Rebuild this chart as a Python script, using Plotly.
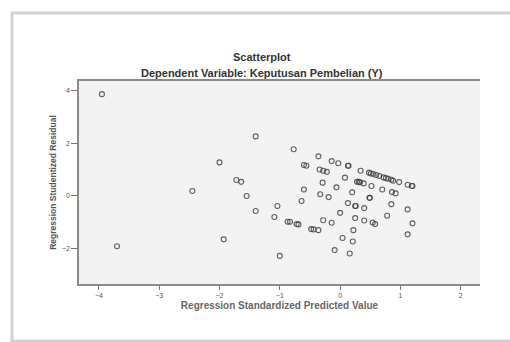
import plotly.graph_objects as go

# Regression Standardized Predicted Value
pred = [-3.95, -3.70, -2.45, -2.00, -1.93, -1.72, -1.64, -1.55, -1.40, -1.40,
        -1.09, -1.04, -1.00, -0.87, -0.83, -0.72, -0.69, -0.77, -0.64, -0.60,
        -0.60, -0.56, -0.48, -0.44, -0.36, -0.36, -0.34, -0.33, -0.29, -0.28,
        -0.28, -0.22, -0.19, -0.14, -0.14, -0.09, -0.06, -0.03, 0.00, 0.04,
        0.08, 0.13, 0.14, 0.13, 0.16, 0.20, 0.22, 0.21, 0.25, 0.25,
        0.26, 0.28, 0.31, 0.33, 0.34, 0.39, 0.40, 0.40, 0.48, 0.49,
        0.49, 0.51, 0.52, 0.54, 0.55, 0.58, 0.60, 0.65, 0.70, 0.72,
        0.76, 0.78, 0.80, 0.85, 0.85, 0.86, 0.88, 0.92, 0.98, 1.12,
        1.12, 1.12, 1.19, 1.20, 1.20]
# Regression Studentized Residual
resid = [3.87, -1.92, 0.18, 1.27, -1.66, 0.60, 0.53, -0.01, 2.26, -0.58,
         -0.81, -0.39, -2.29, -0.99, -0.99, -1.08, -1.09, 1.77, -0.20, 0.24,
         1.17, 1.14, -1.27, -1.28, -1.31, 1.50, 1.00, 0.06, 0.50, 0.95,
         -0.93, 0.91, -0.05, 1.32, -1.03, -2.07, 0.32, 1.24, -0.65, -1.61,
         0.69, 1.14, 1.14, -0.28, -2.20, 0.13, -1.31, -1.74, -0.85, -0.39,
         -0.39, 0.53, 0.53, 0.51, 0.95, 0.47, -0.47, -0.94, 0.88, -0.08,
         -0.08, 0.85, 0.37, -1.02, 0.83, -1.08, 0.79, 0.75, 0.24, 0.70,
         0.67, -0.76, 0.65, 0.61, -0.32, 0.14, 0.57, 0.09, 0.52, -0.52,
         0.42, -1.47, 0.37, 0.37, -1.05]

x_ticks = [-4, -3, -2, -1, 0, 1, 2]
y_ticks = [-2, 0, 2, 4]

W, H = 510, 342
L, R, T, B = 79, 480, 81, 284

fig = go.Figure(go.Scatter(
    x=pred, y=resid, mode="markers",
    marker=dict(symbol="circle-open", size=5, color="rgba(60,60,60,0.8)",
                line=dict(width=1.1, color="rgba(60,60,60,0.8)")),
    hoverinfo="skip", showlegend=False))

def px(xp):
    return (xp - L) / (R - L)

def py(yp):
    return (B - yp) / (B - T)

fig.update_layout(
    width=W, height=H,
    margin=dict(l=L, r=W - R, t=T, b=H - B, pad=0, autoexpand=False),
    paper_bgcolor="white", plot_bgcolor="#f3f3f3",
    font=dict(family="Liberation Sans, Arial, sans-serif", color="#333"),
    xaxis=dict(range=[-4.33, 2.32], tickvals=x_ticks, showgrid=False, zeroline=False,
               automargin=False,
               showline=True, linecolor="#8a8a8a", linewidth=1.5, mirror=True,
               ticks="outside", ticklen=4, tickcolor="#777", tickwidth=1,
               tickfont=dict(size=7, color="#555"),
               title=dict(text="<b>Regression Standardized Predicted Value</b>",
                          font=dict(size=10, color="#666"), standoff=4)),
    yaxis=dict(range=[-3.36, 4.37], tickvals=y_ticks, showgrid=False, zeroline=False,
               automargin=False,
               showline=True, linecolor="#8a8a8a", linewidth=1.5,
               ticks="outside", ticklen=6, tickcolor="#777", tickwidth=1,
               tickfont=dict(size=7, color="#555"),
               title=dict(text="<b>Regression Studentized Residual</b>",
                          font=dict(size=8.5, color="#555"), standoff=4)),
    annotations=[
        dict(text="<b>Scatterplot</b>", xref="paper", yref="paper",
             x=px(262), y=py(57), xanchor="center", yanchor="middle",
             showarrow=False, font=dict(size=11, color="#333")),
        dict(text="<b>Dependent Variable: Keputusan Pembelian (Y)</b>", xref="paper", yref="paper",
             x=px(262), y=py(73), xanchor="center", yanchor="middle",
             showarrow=False, font=dict(size=11, color="#333")),
    ],
    shapes=[
        dict(type="rect", xref="paper", yref="paper",
             x0=px(12), x1=px(520), y0=py(341), y1=py(13),
             line=dict(color="#d2d2d2", width=3), layer="below"),
    ],
)

fig.write_html("out.html", config={"displayModeBar": False},
               post_script="document.body.style.margin='0';document.body.style.overflow='hidden';")
